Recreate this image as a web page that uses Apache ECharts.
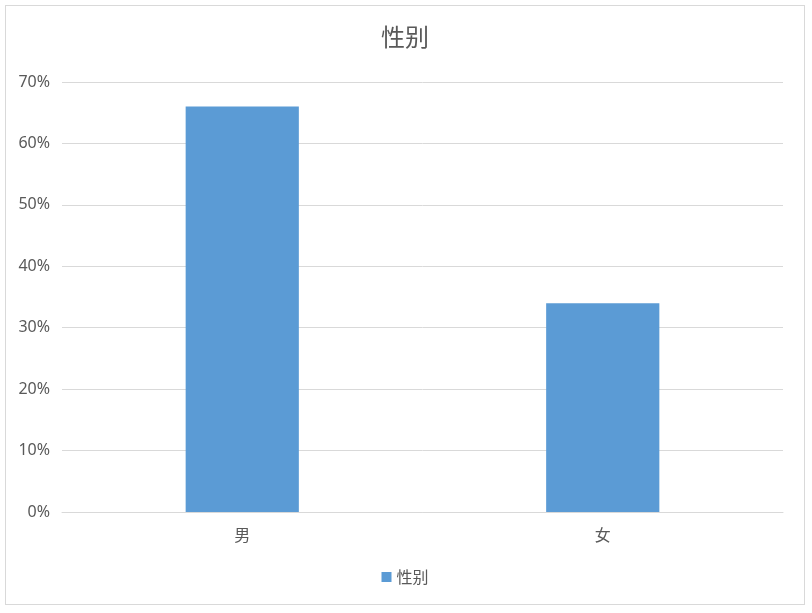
<!DOCTYPE html>
<html>
<head>
<meta charset="utf-8">
<script src="https://cdn.jsdelivr.net/npm/echarts@6/dist/echarts.min.js"></script>
<style>
  html, body { margin: 0; padding: 0; background: #fff; }
  #main { position: absolute; left: 5px; top: 5px; width: 800px; height: 600px; border: 1px solid #d9d9d9; box-sizing: border-box; }
</style>
</head>
<body>
<div id="main"></div>
<script>
var categories = ['男', '女'];
var seriesName = '性别';
var values = [0.66, 0.34];

var myChart = echarts.init(document.getElementById('main'));

var option = {
    title: {
        text: '性别',
        left: 'center',
        top: 14,
        textStyle: { fontSize: 24, fontWeight: 'normal', color: '#595959', fontFamily: 'Noto Sans CJK SC' }
    },
    legend: {
        data: [seriesName],
        bottom: 14,
        left: 'center',
        icon: 'rect',
        itemWidth: 10,
        itemHeight: 10,
        itemGap: 6,
        textStyle: { fontSize: 16, color: '#595959', fontFamily: 'Noto Sans CJK SC' }
    },
    grid: {
        left: 56,
        right: 21,
        top: 76,
        bottom: 92
    },
    xAxis: {
        type: 'category',
        data: categories,
        axisLine: { lineStyle: { color: '#d9d9d9' } },
        axisTick: { show: false },
        axisLabel: { fontSize: 16, color: '#595959', margin: 15, fontFamily: 'Noto Sans CJK SC' }
    },
    yAxis: {
        type: 'value',
        min: 0,
        max: 0.7,
        interval: 0.1,
        axisLine: { show: false },
        axisTick: { show: false },
        splitLine: { lineStyle: { color: '#d9d9d9', width: 1 } },
        axisLabel: {
            fontSize: 16,
            color: '#595959',
            margin: 12,
            fontFamily: 'Noto Sans',
            formatter: function (v) { return Math.round(v * 100) + '%'; }
        }
    },
    series: [
        {
            name: seriesName,
            type: 'bar',
            data: values,
            barWidth: '31.4%',
            itemStyle: { color: '#5b9bd5' }
        }
    ]
};
myChart.setOption(option);
</script>
</body>
</html>
